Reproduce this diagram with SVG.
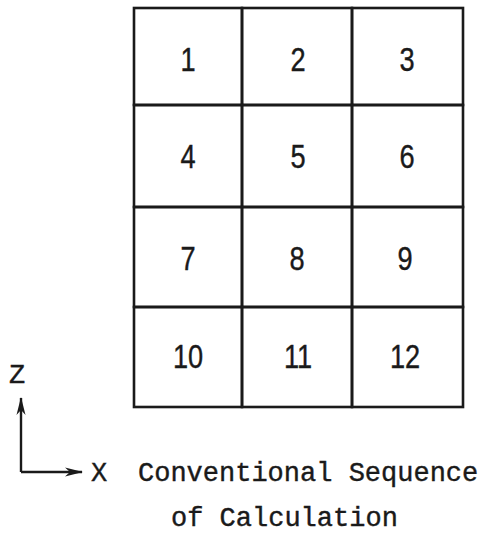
<svg xmlns="http://www.w3.org/2000/svg" width="486" height="535" viewBox="0 0 486 535">
<style>
.cell{fill:none;stroke:#1a1a1a;stroke-width:2.6}
.num{font-family:"Liberation Sans",Arial,sans-serif;font-size:34px;fill:#1a1a1a;stroke:#1a1a1a;stroke-width:0.4;text-anchor:middle}
.lbl{font-family:"Liberation Mono","Courier New",monospace;font-size:27px;fill:#1a1a1a;stroke:#1a1a1a;stroke-width:0.4}
.ax{fill:none;stroke:#1a1a1a;stroke-width:2.4}
</style>
<defs>
<marker id="ah" viewBox="0 0 18 10" refX="17" refY="5" markerWidth="18" markerHeight="10" markerUnits="userSpaceOnUse" orient="auto">
<path d="M0,0.5 L18,5 L0,9.5 L5,5 Z" fill="#1a1a1a"/>
</marker>
</defs>
<rect width="486" height="535" fill="#fff"/>
<g id="cell1"><rect class="cell" x="134" y="8" width="108" height="97"/><text class="num" transform="translate(188,71) scale(0.8,1)">1</text></g>
<g id="cell2"><rect class="cell" x="242" y="8" width="110" height="97"/><text class="num" transform="translate(298,71) scale(0.8,1)">2</text></g>
<g id="cell3"><rect class="cell" x="352" y="8" width="111" height="97"/><text class="num" transform="translate(407,71) scale(0.8,1)">3</text></g>
<g id="cell4"><rect class="cell" x="134" y="105" width="108" height="102"/><text class="num" transform="translate(188,168) scale(0.8,1)">4</text></g>
<g id="cell5"><rect class="cell" x="242" y="105" width="110" height="102"/><text class="num" transform="translate(298,168) scale(0.8,1)">5</text></g>
<g id="cell6"><rect class="cell" x="352" y="105" width="111" height="102"/><text class="num" transform="translate(407,168) scale(0.8,1)">6</text></g>
<g id="cell7"><rect class="cell" x="134" y="207" width="108" height="100"/><text class="num" transform="translate(188,270) scale(0.8,1)">7</text></g>
<g id="cell8"><rect class="cell" x="242" y="207" width="110" height="100"/><text class="num" transform="translate(297,270) scale(0.8,1)">8</text></g>
<g id="cell9"><rect class="cell" x="352" y="207" width="111" height="100"/><text class="num" transform="translate(405,270) scale(0.8,1)">9</text></g>
<g id="cell10"><rect class="cell" x="134" y="307" width="108" height="100"/><text class="num" transform="translate(188,368) scale(0.8,1)">10</text></g>
<g id="cell11"><rect class="cell" x="242" y="307" width="110" height="100"/><text class="num" transform="translate(298,368) scale(0.8,1)">11</text></g>
<g id="cell12"><rect class="cell" x="352" y="307" width="111" height="100"/><text class="num" transform="translate(405,368) scale(0.8,1)">12</text></g>
<g id="connectors">
<line class="ax" x1="21" y1="472" x2="21" y2="398" marker-end="url(#ah)"/>
<line class="ax" x1="21" y1="472" x2="82" y2="472" marker-end="url(#ah)"/>
</g>
<g id="labels">
<text class="lbl" x="9" y="383">Z</text>
<text class="lbl" x="91" y="481">X</text>
<text class="lbl" x="138" y="481">Conventional Sequence</text>
<text class="lbl" x="171" y="526">of Calculation</text>
</g>
</svg>
